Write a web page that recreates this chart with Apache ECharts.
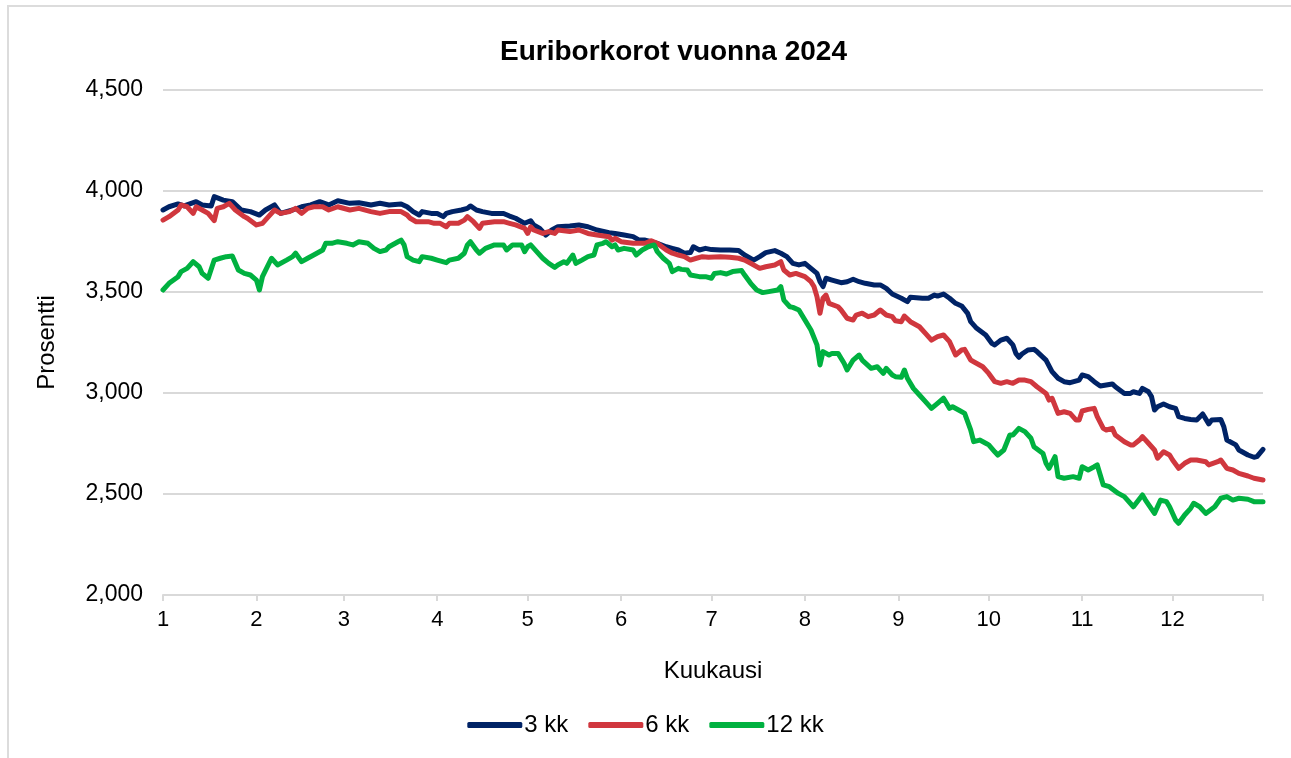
<!DOCTYPE html>
<html>
<head>
<meta charset="utf-8">
<script src="https://cdn.jsdelivr.net/npm/echarts@6/dist/echarts.min.js"></script>
<style>
  html, body { margin: 0; padding: 0; background: #fff; overflow: hidden; }
  #frame { position: absolute; left: 7px; top: 5px; width: 1284px; height: 753px; border-left: 2px solid #dcdcdc; border-top: 2px solid #dcdcdc; box-sizing: border-box; }
  #chart { position: absolute; left: 0; top: 0; width: 1291px; height: 758px; }
</style>
</head>
<body>
<div id="frame"></div>
<div id="chart"></div>
<script>
// päivä vuoden alusta (2024) ja korko prosentteina
const monthStarts = [1, 32, 61, 92, 122, 153, 183, 214, 245, 275, 306, 336];
const monthLabels = ["1", "2", "3", "4", "5", "6", "7", "8", "9", "10", "11", "12"];

const days3 = [1, 3, 6, 8, 12, 14, 17, 18, 21, 24, 27, 30, 33, 35, 38, 40, 44, 47, 50, 53, 56, 59,
  63, 66, 70, 73, 76, 80, 82, 84, 86, 87, 90, 92, 94, 95, 97, 100, 102, 103, 105, 107, 110, 112, 114, 116, 118, 121,
  123, 124, 126, 128, 130, 132, 136, 139, 142, 145, 149, 151, 154, 157, 159, 161, 163, 165, 168, 170, 172, 174, 176, 177, 179, 181,
  183, 186, 189, 192, 194, 197, 199, 201, 204, 206, 208, 210, 212, 214, 216, 218, 219, 220, 221, 223, 226, 228, 230, 232, 234, 237, 239, 241, 243,
  246, 248, 249, 253, 255, 257, 258, 260, 262, 264, 266, 268, 269, 271, 274, 276, 277, 279, 281, 283, 284, 285, 286, 288, 290, 291, 294, 296, 298, 300, 302, 305,
  306, 308, 310, 312, 314, 316, 317, 320, 322, 323, 325, 326, 328, 329, 330, 331, 333, 335, 337, 338, 340, 342, 344, 346, 348, 349, 352, 353, 354, 357, 358, 361, 363, 364, 366];
const rates3 = [3.906, 3.922, 3.936, 3.926, 3.947, 3.931, 3.926, 3.972, 3.955, 3.947, 3.906, 3.898, 3.881, 3.906, 3.931, 3.889, 3.906, 3.922, 3.931, 3.947, 3.931, 3.952,
  3.939, 3.942, 3.931, 3.939, 3.931, 3.936, 3.922, 3.898, 3.881, 3.898, 3.889, 3.889, 3.873, 3.889, 3.898, 3.906, 3.914, 3.926, 3.906, 3.898, 3.889, 3.889, 3.889, 3.876, 3.865, 3.840,
  3.853, 3.832, 3.815, 3.782, 3.807, 3.823, 3.827, 3.832, 3.823, 3.807, 3.794, 3.790, 3.782, 3.774, 3.757, 3.757, 3.749, 3.741, 3.724, 3.716, 3.708, 3.692, 3.695, 3.724, 3.708, 3.716,
  3.710, 3.708, 3.708, 3.705, 3.683, 3.658, 3.675, 3.695, 3.705, 3.692, 3.675, 3.642, 3.634, 3.642, 3.617, 3.592, 3.551, 3.527, 3.568, 3.559, 3.546, 3.551, 3.563, 3.551, 3.543, 3.535, 3.535, 3.518, 3.490,
  3.469, 3.452, 3.474, 3.469, 3.469, 3.485, 3.480, 3.490, 3.469, 3.444, 3.431, 3.394, 3.353, 3.320, 3.287, 3.246, 3.238, 3.262, 3.271, 3.238, 3.196, 3.177, 3.193, 3.213, 3.216, 3.205, 3.163, 3.106, 3.073, 3.056, 3.051, 3.064,
  3.089, 3.081, 3.056, 3.035, 3.040, 3.045, 3.031, 2.998, 2.998, 3.006, 2.998, 3.023, 3.006, 2.982, 2.916, 2.932, 2.946, 2.932, 2.924, 2.883, 2.874, 2.869, 2.866, 2.896, 2.847, 2.866, 2.869, 2.833, 2.767, 2.743, 2.718, 2.693, 2.682, 2.685, 2.721];

const days6 = [1, 3, 6, 7, 9, 11, 12, 14, 16, 18, 19, 21, 23, 25, 28, 29, 32, 34, 36, 38, 40, 43, 45, 47, 49, 51, 54, 56, 59,
  63, 66, 70, 73, 76, 80, 82, 83, 85, 89, 91, 93, 95, 96, 99, 101, 102, 104, 106, 107, 111, 114, 116, 118, 121, 122,
  123, 124, 127, 129, 131, 132, 136, 139, 142, 145, 149, 150, 151, 153, 157, 159, 161, 163, 165, 168, 170, 172, 174, 176, 178, 180, 182,
  186, 189, 192, 194, 196, 199, 201, 204, 206, 207, 209, 211, 214, 216, 217, 218, 219, 220, 221, 222, 225, 226, 228, 230, 231, 233, 235, 237, 239, 241, 243, 244,
  246, 247, 249, 252, 254, 256, 258, 260, 262, 264, 266, 267, 269, 270, 273, 275, 277, 279, 281, 283, 285, 287, 289, 291, 294, 295, 296, 298, 300, 302, 304, 305,
  306, 308, 310, 311, 313, 314, 316, 317, 320, 322, 323, 325, 326, 328, 330, 331, 333, 335, 336, 338, 340, 342, 344, 347, 348, 351, 352, 354, 356, 358, 361, 363, 366];
const rates6 = [3.856, 3.873, 3.906, 3.931, 3.922, 3.889, 3.922, 3.906, 3.889, 3.853, 3.914, 3.922, 3.939, 3.906, 3.873, 3.865, 3.832, 3.840, 3.873, 3.906, 3.889, 3.898, 3.914, 3.889, 3.914, 3.922, 3.922, 3.906, 3.922,
  3.906, 3.914, 3.898, 3.889, 3.898, 3.898, 3.881, 3.865, 3.848, 3.848, 3.840, 3.840, 3.823, 3.840, 3.840, 3.856, 3.873, 3.848, 3.815, 3.840, 3.848, 3.848, 3.840, 3.832, 3.815, 3.790,
  3.823, 3.807, 3.790, 3.799, 3.790, 3.807, 3.799, 3.807, 3.790, 3.782, 3.774, 3.757, 3.766, 3.749, 3.741, 3.741, 3.741, 3.754, 3.741, 3.708, 3.692, 3.683, 3.675, 3.658, 3.667, 3.675, 3.672,
  3.675, 3.672, 3.667, 3.658, 3.642, 3.617, 3.625, 3.634, 3.650, 3.609, 3.584, 3.592, 3.576, 3.551, 3.527, 3.477, 3.395, 3.469, 3.485, 3.444, 3.427, 3.411, 3.370, 3.361, 3.386, 3.395, 3.378, 3.386, 3.411, 3.386, 3.378, 3.358,
  3.353, 3.381, 3.353, 3.328, 3.295, 3.262, 3.279, 3.287, 3.254, 3.188, 3.213, 3.216, 3.163, 3.155, 3.130, 3.097, 3.056, 3.048, 3.056, 3.048, 3.064, 3.064, 3.056, 3.031, 2.998, 2.965, 2.974, 2.899, 2.907, 2.899, 2.866, 2.866,
  2.911, 2.919, 2.924, 2.883, 2.825, 2.817, 2.825, 2.792, 2.759, 2.743, 2.743, 2.767, 2.784, 2.751, 2.718, 2.677, 2.709, 2.693, 2.668, 2.627, 2.652, 2.668, 2.668, 2.660, 2.644, 2.660, 2.668, 2.627, 2.619, 2.602, 2.589, 2.578, 2.569];

const days12 = [1, 3, 6, 7, 9, 11, 13, 14, 16, 18, 20, 22, 24, 26, 28, 30, 32, 33, 34, 37, 39, 42, 44, 45, 47, 49, 51, 54, 55, 57, 59,
  62, 64, 66, 69, 71, 73, 75, 76, 79, 80, 81, 82, 84, 86, 87, 90, 92, 95, 96, 99, 101, 102, 103, 105, 106, 108, 111, 114, 115, 117, 120, 121,
  122, 123, 125, 127, 129, 131, 132, 134, 135, 137, 138, 140, 142, 144, 145, 147, 148, 150, 151, 152, 154, 157, 158, 160, 162, 164, 165, 167, 169, 170, 172, 173, 175, 176, 179, 181, 183,
  184, 186, 188, 190, 193, 194, 196, 198, 200, 202, 205, 206, 207, 209, 210, 212, 214, 216, 218, 219, 220, 222, 223, 225, 227, 228, 230, 232, 233, 236, 238, 240, 241, 243,
  244, 246, 247, 248, 250, 252, 254, 256, 258, 260, 262, 263, 265, 267, 269, 270, 272, 274, 275, 277, 278, 280, 282, 283, 285, 287, 289, 290, 293, 294, 295, 297, 298, 300, 303, 305,
  306, 308, 310, 311, 312, 313, 315, 318, 320, 323, 326, 327, 330, 332, 334, 335, 337, 338, 340, 342, 343, 345, 347, 350, 352, 354, 356, 358, 361, 363, 366];
const rates12 = [3.510, 3.543, 3.576, 3.601, 3.617, 3.650, 3.625, 3.592, 3.568, 3.658, 3.667, 3.675, 3.678, 3.609, 3.592, 3.584, 3.559, 3.510, 3.576, 3.667, 3.634, 3.658, 3.675, 3.692, 3.650, 3.667, 3.683, 3.708, 3.741, 3.741, 3.749,
  3.741, 3.733, 3.749, 3.741, 3.716, 3.700, 3.708, 3.724, 3.749, 3.757, 3.733, 3.675, 3.658, 3.650, 3.675, 3.667, 3.658, 3.645, 3.658, 3.667, 3.692, 3.733, 3.749, 3.708, 3.692, 3.716, 3.733, 3.733, 3.708, 3.733, 3.733, 3.700,
  3.724, 3.733, 3.700, 3.667, 3.642, 3.622, 3.634, 3.650, 3.642, 3.683, 3.642, 3.658, 3.675, 3.683, 3.733, 3.741, 3.749, 3.724, 3.733, 3.708, 3.716, 3.708, 3.683, 3.708, 3.724, 3.733, 3.700, 3.667, 3.642, 3.601, 3.617, 3.612, 3.609, 3.584, 3.576, 3.576, 3.568,
  3.592, 3.596, 3.589, 3.601, 3.606, 3.584, 3.543, 3.510, 3.497, 3.502, 3.510, 3.527, 3.460, 3.427, 3.424, 3.411, 3.361, 3.312, 3.238, 3.139, 3.205, 3.188, 3.196, 3.196, 3.147, 3.114, 3.163, 3.188, 3.163, 3.122, 3.130, 3.097, 3.122, 3.089,
  3.081, 3.078, 3.114, 3.073, 3.023, 2.990, 2.957, 2.924, 2.949, 2.974, 2.924, 2.932, 2.916, 2.899, 2.817, 2.759, 2.767, 2.751, 2.743, 2.709, 2.693, 2.718, 2.792, 2.792, 2.825, 2.809, 2.776, 2.734, 2.701, 2.652, 2.627, 2.685, 2.586, 2.578, 2.586, 2.578,
  2.635, 2.619, 2.635, 2.644, 2.594, 2.545, 2.536, 2.503, 2.487, 2.437, 2.495, 2.470, 2.404, 2.470, 2.462, 2.437, 2.371, 2.355, 2.396, 2.429, 2.454, 2.437, 2.404, 2.437, 2.479, 2.487, 2.470, 2.479, 2.474, 2.462, 2.462];

const font = "'Liberation Sans', Arial, sans-serif";
const chart = echarts.init(document.getElementById("chart"));

function pairs(days, rates) {
  return days.map((d, i) => [d, rates[i]]);
}

function lineSeries(name, days, rates, color) {
  return {
    name,
    type: "line",
    data: pairs(days, rates),
    showSymbol: false,
    lineStyle: { width: 5, color, join: "round", cap: "round" },
    itemStyle: { color },
    emphasis: { disabled: true },
  };
}

chart.setOption({
  animation: false,
  textStyle: { fontFamily: font },
  title: {
    text: "Euriborkorot vuonna 2024",
    left: 495,
    top: 33,
    textStyle: { fontSize: 28, fontWeight: "bold", color: "#000", fontFamily: font },
  },
  grid: { left: 163, right: 28, top: 90, bottom: 163 },
  legend: {
    bottom: 16,
    left: "center",
    icon: "roundRect",
    itemWidth: 55,
    itemHeight: 6,
    itemGap: 20,
    textStyle: { fontSize: 24, color: "#000", fontFamily: font, padding: [0, 0, 0, -3] },
    data: ["3 kk", "6 kk", "12 kk"],
  },
  xAxis: {
    type: "value",
    min: 1,
    max: 366,
    name: "Kuukausi",
    nameLocation: "middle",
    nameGap: 64,
    nameTextStyle: { fontSize: 24, color: "#000", fontFamily: font },
    axisLine: { lineStyle: { color: "#d9d9d9", width: 2 } },
    axisTick: { show: true, length: 6, lineStyle: { color: "#d9d9d9", width: 2 }, customValues: monthStarts.concat([366]) },
    axisLabel: {
      customValues: monthStarts,
      formatter: (v) => monthLabels[monthStarts.indexOf(v)],
      fontSize: 22,
      color: "#000",
      margin: 14,
    },
    splitLine: { show: false },
  },
  yAxis: {
    type: "value",
    min: 2,
    max: 4.5,
    interval: 0.5,
    name: "Prosentti",
    nameLocation: "middle",
    nameGap: 104,
    nameTextStyle: { fontSize: 24, color: "#000", fontFamily: font },
    axisLine: { show: false },
    axisTick: { show: false },
    axisLabel: {
      formatter: (v) => v.toFixed(3).replace(".", ","),
      fontSize: 23,
      color: "#000",
      margin: 20,
    },
    splitLine: { lineStyle: { color: "#d9d9d9", width: 2 } },
  },
  series: [
    lineSeries("3 kk", days3, rates3, "#002366"),
    lineSeries("6 kk", days6, rates6, "#D0373E"),
    lineSeries("12 kk", days12, rates12, "#00B140"),
  ],
});
</script>
</body>
</html>
